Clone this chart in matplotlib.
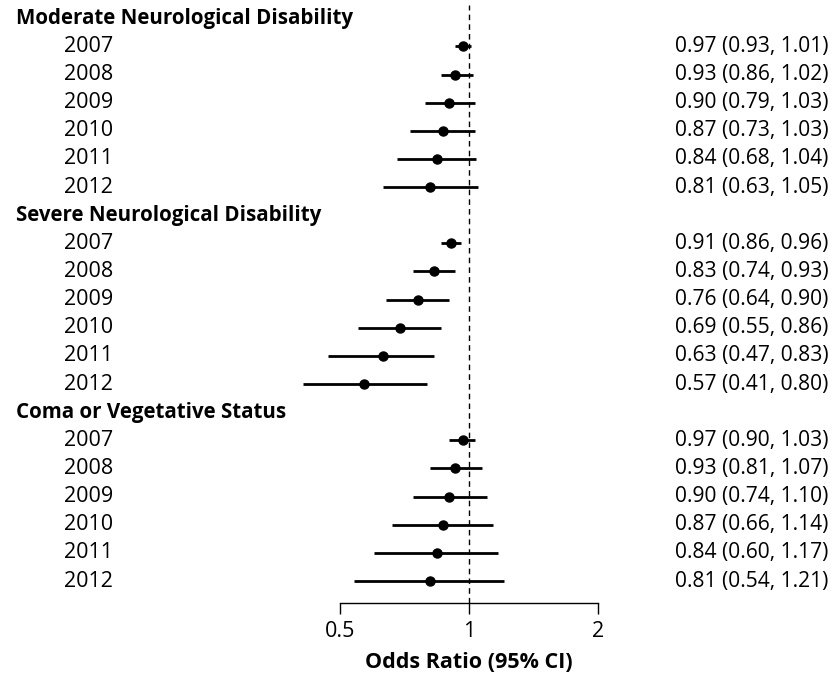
import matplotlib
matplotlib.use("Agg")
import matplotlib.pyplot as plt
import matplotlib.transforms as mtransforms

plt.rcParams['font.family'] = ['Open Sans', 'DejaVu Sans']

# Data
groups = ["Moderate Neurological Disability",
          "Severe Neurological Disability",
          "Coma or Vegetative Status"]
years = ["2007", "2008", "2009", "2010", "2011", "2012"]

or_moderate = [0.97, 0.93, 0.90, 0.87, 0.84, 0.81]
lo_moderate = [0.93, 0.86, 0.79, 0.73, 0.68, 0.63]
hi_moderate = [1.01, 1.02, 1.03, 1.03, 1.04, 1.05]

or_severe = [0.91, 0.83, 0.76, 0.69, 0.63, 0.57]
lo_severe = [0.86, 0.74, 0.64, 0.55, 0.47, 0.41]
hi_severe = [0.96, 0.93, 0.90, 0.86, 0.83, 0.80]

or_coma = [0.97, 0.93, 0.90, 0.87, 0.84, 0.81]
lo_coma = [0.90, 0.81, 0.74, 0.66, 0.60, 0.54]
hi_coma = [1.03, 1.07, 1.10, 1.14, 1.17, 1.21]

x_ticks = [0.5, 1, 2]
x_tick_labels = ["0.5", "1", "2"]

series = [(or_moderate, lo_moderate, hi_moderate),
          (or_severe, lo_severe, hi_severe),
          (or_coma, lo_coma, hi_coma)]

W, H = 835, 677
fig = plt.figure(figsize=(W / 100, H / 100), dpi=100)
ax = fig.add_axes([340 / W, (H - 603) / H, 258 / W, (603 - 5) / H])

fs = 15.5
trans = mtransforms.blended_transform_factory(fig.transFigure, ax.transData)

row = 0
for name, (ors, los, his) in zip(groups, series):
    ax.text(16 / W, row, name, transform=trans, fontsize=14.8,
            fontweight='bold', va='center', ha='left')
    row += 1
    for yr, o, lo, hi in zip(years, ors, los, his):
        ax.plot([lo, hi], [row, row], color='black', lw=2.0,
                solid_capstyle='butt', clip_on=False)
        ax.plot(o, row, 'o', color='black', ms=6.5, clip_on=False)
        ax.text(64 / W, row, yr, transform=trans, fontsize=fs,
                va='center', ha='left')
        ax.text(675 / W, row, f"{o:.2f} ({lo:.2f}, {hi:.2f})",
                transform=trans, fontsize=15.1, va='center', ha='left')
        row += 1

ax.axvline(1, color='black', lw=1.0, ls=(0, (4, 3)), zorder=0)

ax.set_xscale('log')
ax.set_xlim(0.5, 2)
ax.set_ylim(20.78, -0.47)
ax.set_xticks(x_ticks)
ax.set_xticklabels(x_tick_labels)
ax.minorticks_off()
ax.set_yticks([])
for s in ['top', 'right', 'left']:
    ax.spines[s].set_visible(False)
ax.spines['bottom'].set_linewidth(1.0)
ax.tick_params(axis='x', length=8, width=1.0, labelsize=fs, pad=5)
ax.set_xlabel("Odds Ratio (95% CI)", fontsize=fs, fontweight='bold', labelpad=7)

fig.savefig("out.png", dpi=100)
